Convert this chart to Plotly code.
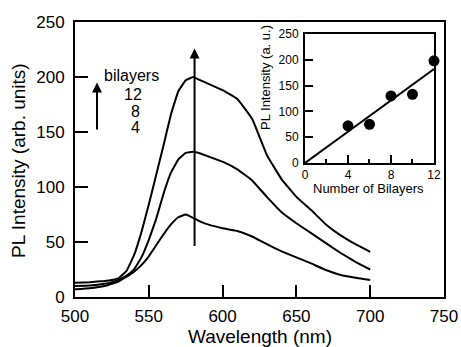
import plotly.graph_objects as go

# Main spectra
wavelength = [500, 510, 520, 525, 530, 535, 540, 545, 550, 555, 560, 565, 570, 575, 580,
              585, 590, 600, 610, 620, 630, 640, 650, 660, 670, 680, 690, 700]
pl_12 = [13, 13.5, 14.5, 15.5, 17.5, 24, 38, 59, 84, 111, 138, 166, 187, 197, 200,
         197, 194, 188, 180, 162, 129, 107, 91, 79, 66, 56, 48, 41]
pl_8 = [10, 10.5, 12, 13.5, 16, 19.5, 25, 36, 52, 71, 94, 113, 125, 131, 132,
        130.5, 128, 123, 116, 106, 91, 77, 67, 58, 49, 40, 32, 25]
pl_4 = [7, 8, 10, 12, 14.5, 18.5, 23, 29, 37, 47, 57, 66, 72.5, 75, 72,
        68.5, 66, 62.5, 60, 55, 48, 41.5, 36, 30.5, 24.5, 20, 17.5, 15.5]

# Inset
bilayers = [4, 6, 8, 10, 12]
inset_pl = [72, 75, 130, 133, 198]
fit_x = [0, 12]
fit_y = [0, 182]

legend_labels = ["bilayers", "12", "8", "4"]

FONT = "Liberation Sans, Arial, sans-serif"
fig = go.Figure()
for ys in (pl_12, pl_8, pl_4):
    fig.add_trace(go.Scatter(x=wavelength, y=ys, mode="lines", line=dict(color="black", width=2, shape="spline", smoothing=0.25),
                             showlegend=False, xaxis="x", yaxis="y"))

fig.add_trace(go.Scatter(x=fit_x, y=fit_y, mode="lines", line=dict(color="black", width=2),
                         showlegend=False, xaxis="x2", yaxis="y2", cliponaxis=False))
fig.add_trace(go.Scatter(x=bilayers, y=inset_pl, mode="markers", marker=dict(color="black", size=11),
                         showlegend=False, xaxis="x2", yaxis="y2", cliponaxis=False))

axis_common = dict(showgrid=False, zeroline=False, linecolor="black", linewidth=2, mirror=True,
                   ticks="inside", tickcolor="black", tickwidth=1.5, color="black", automargin=False)

ann = dict(showarrow=False, xanchor="center", yanchor="middle")

fig.update_layout(
    width=461, height=347,
    margin=dict(l=75, r=17, t=22, b=50),
    paper_bgcolor="white", plot_bgcolor="white",
    font=dict(family=FONT, color="black"),
    xaxis=dict(**axis_common, range=[500, 750], tickvals=[500, 550, 600, 650, 700, 750], ticklen=12,
               tickfont=dict(size=17), domain=[0, 1], ticklabelstandoff=3),
    yaxis=dict(**axis_common, range=[0, 250], tickvals=[0, 50, 100, 150, 200, 250], ticklen=13,
               tickfont=dict(size=17), domain=[0, 1], ticklabelstandoff=5),
    xaxis2=dict(**axis_common, range=[0, 12], tickvals=[0, 4, 8, 12], ticklen=8,
                minor=dict(ticks="inside", dtick=2, tick0=0, ticklen=4, tickcolor="black", tickwidth=1.5),
                tickfont=dict(size=12), domain=[0.6233, 0.9729], anchor="y2"),
    yaxis2=dict(**axis_common, range=[0, 250], tickvals=[0, 50, 100, 150, 200, 250], ticklen=8,
                tickfont=dict(size=12), domain=[0.4873, 0.9564], anchor="x2", ticklabelstandoff=2),
    annotations=[
        dict(**ann, text="Wavelength (nm)", xref="paper", yref="paper", x=0.5, y=-0.145, font=dict(size=19)),
        dict(**ann, text="PL Intensity (arb. units)", xref="paper", yref="paper", x=(19 - 75) / 369, y=(297 - 161) / 275,
             textangle=-90, font=dict(size=19)),
        dict(**ann, text="Number of Bilayers", xref="paper", yref="paper", x=(368 - 75) / 369, y=(297 - 188) / 275,
             font=dict(size=13)),
        dict(**ann, text="PL Intensity (a. u.)", xref="paper", yref="paper", x=(265 - 75) / 369, y=(297 - 78) / 275,
             textangle=-90, font=dict(size=13)),
        dict(**ann, text=legend_labels[0], x=538.6, y=201, xref="x", yref="y", font=dict(size=16)),
        dict(**ann, text=legend_labels[1], x=539.3, y=184, xref="x", yref="y", font=dict(size=16)),
        dict(**ann, text=legend_labels[2], x=541.3, y=169, xref="x", yref="y", font=dict(size=16)),
        dict(**ann, text=legend_labels[3], x=541.3, y=154, xref="x", yref="y", font=dict(size=16)),
        dict(text="", x=514.9, y=195, ax=514.9, ay=151, xref="x", yref="y", axref="x", ayref="y",
             showarrow=True, arrowhead=2, arrowsize=1, arrowwidth=2, arrowcolor="black"),
        dict(text="", x=581, y=226, ax=581, ay=45, xref="x", yref="y", axref="x", ayref="y",
             showarrow=True, arrowhead=2, arrowsize=1, arrowwidth=2, arrowcolor="black"),
    ],
    shapes=[
        dict(type="rect", xref="x2 domain", yref="y2 domain", x0=0, x1=1, y0=0, y1=1,
             fillcolor="white", line=dict(width=0), layer="below"),
    ],
)

fig.write_html("out.html", config={"displayModeBar": False},
               post_script="document.body.style.margin='0';")
